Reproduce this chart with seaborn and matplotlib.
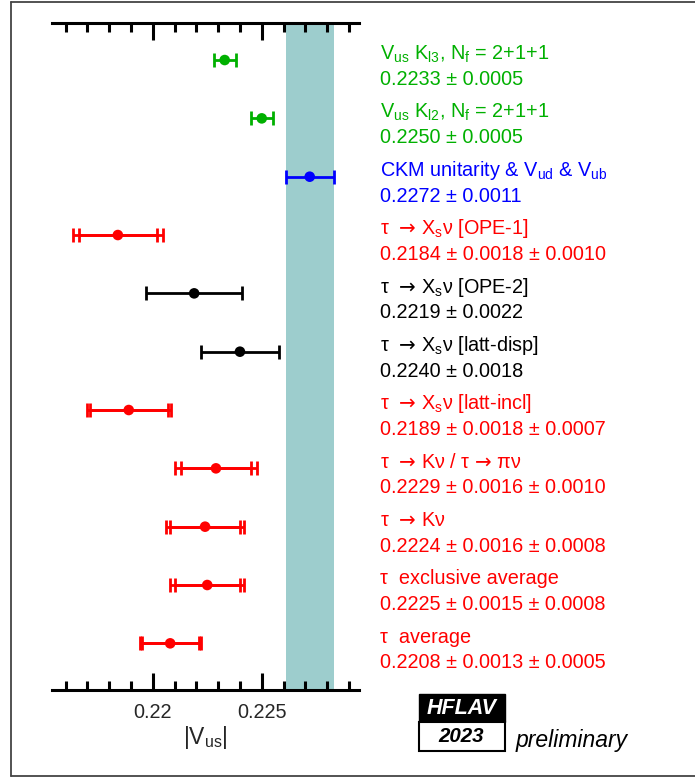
import numpy as np
import pandas as pd
import matplotlib.pyplot as plt
import seaborn as sns
from matplotlib import transforms
from matplotlib.patches import Rectangle
from matplotlib.lines import Line2D

# measurements of |Vus|, top to bottom
arrow = r"$\mathsf{→}$"
labels = [
    r"$V_{us}$ $K_{l3}$, $N_f$ = 2+1+1",
    r"$V_{us}$ $K_{l2}$, $N_f$ = 2+1+1",
    r"CKM unitarity & $V_{ud}$ & $V_{ub}$",
    "τ  " + arrow + r" $X_s$ν [OPE-1]",
    "τ  " + arrow + r" $X_s$ν [OPE-2]",
    "τ  " + arrow + r" $X_s$ν [latt-disp]",
    "τ  " + arrow + r" $X_s$ν [latt-incl]",
    "τ  " + arrow + " Kν / τ " + arrow + " πν",
    "τ  " + arrow + " Kν",
    "τ  exclusive average",
    "τ  average",
]
values = [0.2233, 0.2250, 0.2272, 0.2184, 0.2219, 0.2240, 0.2189, 0.2229, 0.2224, 0.2225, 0.2208]
stat = [0.0005, 0.0005, 0.0011, 0.0018, 0.0022, 0.0018, 0.0018, 0.0016, 0.0016, 0.0015, 0.0013]
syst = [0, 0, 0, 0.0010, 0, 0, 0.0007, 0.0010, 0.0008, 0.0008, 0.0005]
groups = ["lattice", "lattice", "ckm", "tau", "other", "other", "tau", "tau", "tau", "tau", "tau"]

colors = {"lattice": "#00b000", "ckm": "#0000ff", "tau": "#ff0000", "other": "#000000"}
band_color = "#9dcdcd"

df = pd.DataFrame({"label": labels, "value": values, "stat": stat, "syst": syst, "group": groups})
df["row"] = np.arange(len(df))
df["total"] = np.sqrt(df["stat"] ** 2 + df["syst"] ** 2)

sns.set_style("ticks")
plt.rcParams["font.family"] = ["Liberation Sans", "DejaVu Sans"]
plt.rcParams["mathtext.fontset"] = "custom"
plt.rcParams["mathtext.rm"] = "Liberation Sans"
plt.rcParams["mathtext.it"] = "Liberation Sans:italic"
plt.rcParams["mathtext.bf"] = "Liberation Sans:bold"
plt.rcParams["mathtext.sf"] = "DejaVu Sans"
plt.rcParams["mathtext.default"] = "regular"

fs = 14.3

fig = plt.figure(figsize=(6.95, 7.78), dpi=100)
ax = fig.add_axes([52 / 695, 88 / 778, 307 / 695, 667 / 778])

# CKM unitarity band
ckm = df[df["group"] == "ckm"].iloc[0]
ax.axvspan(ckm["value"] - ckm["total"], ckm["value"] + ckm["total"], color=band_color, lw=0, zorder=0)

for _, r in df.iterrows():
    c = colors[r["group"]]
    ax.errorbar(r["value"], r["row"], xerr=r["total"], fmt="none", ecolor=c,
                elinewidth=2.0, capsize=5, capthick=2.0, zorder=2)
    if r["syst"] > 0:
        ax.errorbar(r["value"], r["row"], xerr=r["stat"], fmt="none", ecolor=c,
                    elinewidth=2.0, capsize=5, capthick=2.0, zorder=2)

sns.scatterplot(data=df, x="value", y="row", hue="group", palette=colors,
                s=58, edgecolor="none", legend=False, zorder=3, ax=ax)

ax.set_xlim(0.21538, 0.22946)
ax.set_ylim(10.80, -0.635)
ax.set_xticks([0.22, 0.225])
ax.set_xticklabels(["0.22", "0.225"])
ax.set_xticks(np.arange(0.216, 0.2295, 0.001), minor=True)
ax.tick_params(axis="x", which="both", direction="in", top=True, bottom=True,
               width=2.2, color="black", labelsize=fs, pad=9.5)
ax.tick_params(axis="x", which="major", length=12)
ax.tick_params(axis="x", which="minor", length=6.5)
ax.set_yticks([])
ax.set_ylabel("")
ax.set_xlabel(r"|$V_{us}$|", fontsize=16.5, labelpad=1.5)
for s in ["left", "right"]:
    ax.spines[s].set_visible(False)
for s in ["top", "bottom"]:
    ax.spines[s].set_linewidth(2.2)
    ax.spines[s].set_color("black")

# text next to each measurement
trans = transforms.blended_transform_factory(fig.transFigure, ax.transData)
for _, r in df.iterrows():
    c = colors[r["group"]]
    if r["syst"] > 0:
        val = f"{r['value']:.4f} ± {r['stat']:.4f} ± {r['syst']:.4f}"
    else:
        val = f"{r['value']:.4f} ± {r['stat']:.4f}"
    ax.annotate(r["label"], xy=(380 / 695, r["row"]), xycoords=trans, xytext=(0, 0.5),
                textcoords="offset points", color=c, fontsize=fs, va="baseline", ha="left",
                annotation_clip=False)
    ax.annotate(val, xy=(380 / 695, r["row"]), xycoords=trans, xytext=(0, -18),
                textcoords="offset points", color=c, fontsize=fs, va="baseline", ha="left",
                annotation_clip=False)

# HFLAV logo
fig.add_artist(Rectangle((419 / 695, 56 / 778), 86 / 695, 28 / 778, transform=fig.transFigure,
                         facecolor="black", edgecolor="black", lw=1))
fig.add_artist(Rectangle((419 / 695, 27 / 778), 86 / 695, 29 / 778, transform=fig.transFigure,
                         facecolor="white", edgecolor="black", lw=1.5))
fig.text(462 / 695, 70 / 778, "HFLAV", color="white", fontsize=15.5, fontweight="bold",
         style="italic", ha="center", va="center")
fig.text(461 / 695, 41 / 778, "2023", color="black", fontsize=14.8, fontweight="bold",
         style="italic", ha="center", va="center")
fig.text(516 / 695, 38 / 778, "preliminary", color="black", fontsize=16.5, style="italic",
         ha="left", va="center")

# frame around the figure (no right edge)
frame_kw = dict(transform=fig.transFigure, color="#444444", lw=1.3)
fig.add_artist(Line2D([11 / 695, 1], [1 - 1.5 / 778, 1 - 1.5 / 778], **frame_kw))
fig.add_artist(Line2D([11 / 695, 11 / 695], [2 / 778, 1 - 1.5 / 778], **frame_kw))
fig.add_artist(Line2D([11 / 695, 1], [2 / 778, 2 / 778], **frame_kw))

fig.savefig("out.png", dpi=100)
